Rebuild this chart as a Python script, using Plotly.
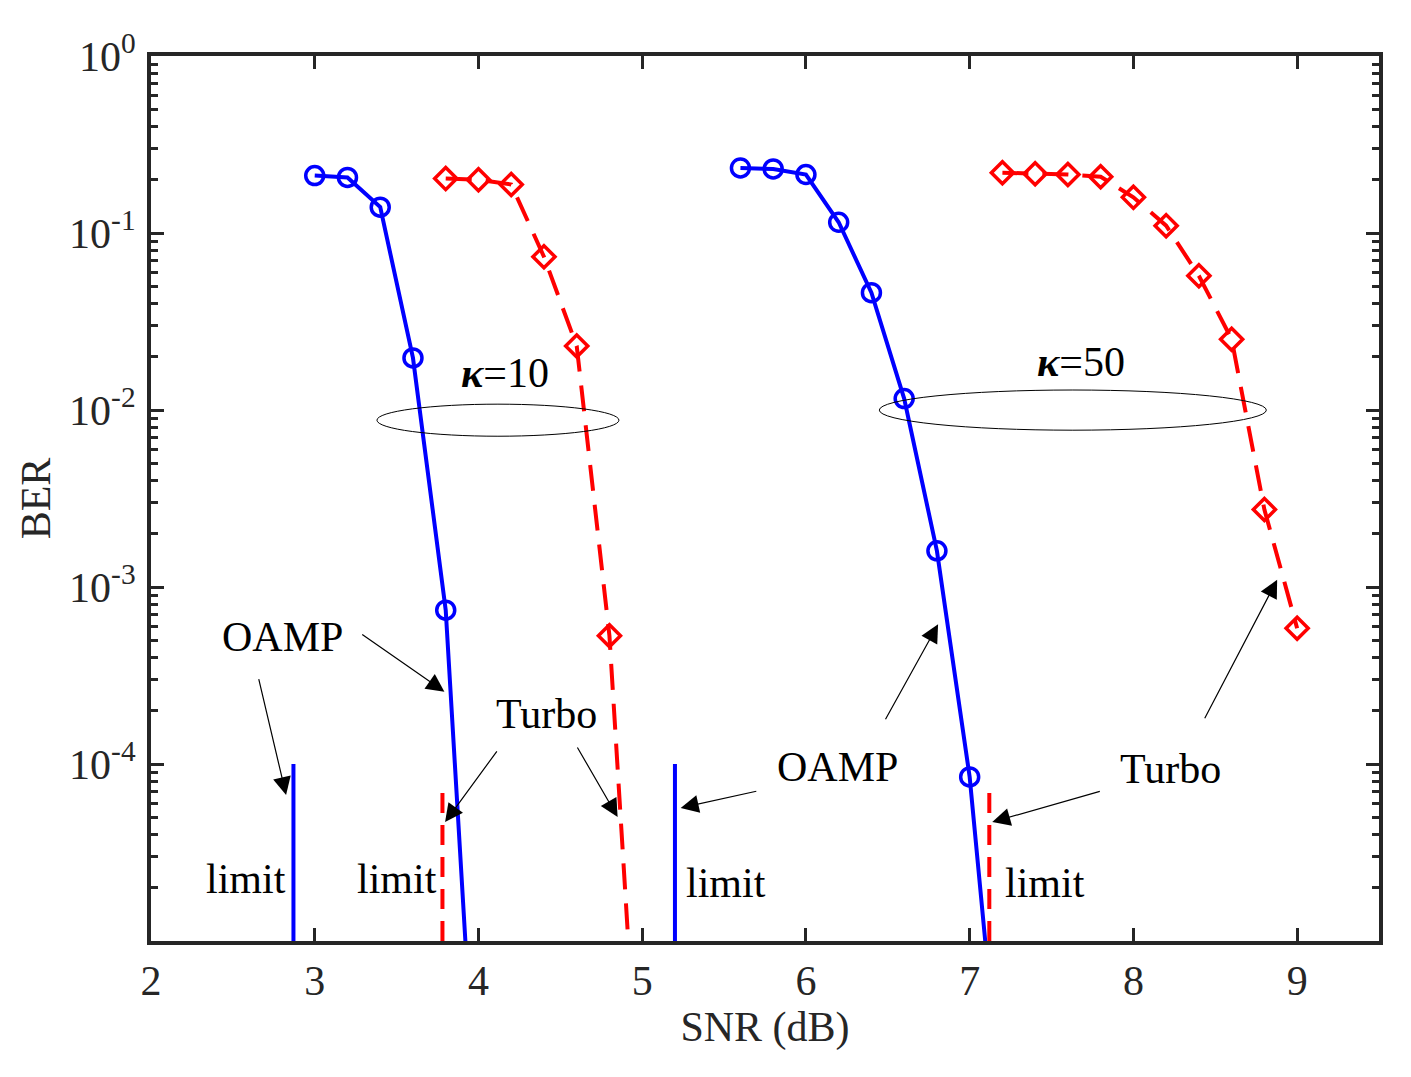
import plotly.graph_objects as go

# ---------------- data ----------------
snr_oamp10 = [3.0, 3.2, 3.4, 3.6, 3.8, 4.0]
ber_oamp10 = [0.211, 0.206, 0.140, 0.0197, 7.4e-4, 5.7e-7]

snr_turbo10 = [3.8, 4.0, 4.2, 4.4, 4.6, 4.8, 5.0]
ber_turbo10 = [0.203, 0.200, 0.188, 0.0734, 0.0230, 5.3e-4, 5.3e-7]

snr_oamp50 = [5.6, 5.8, 6.0, 6.2, 6.4, 6.6, 6.8, 7.0, 7.2]
ber_oamp50 = [0.233, 0.230, 0.214, 0.115, 0.046, 0.0116, 1.6e-3, 8.45e-5, 9.5e-7]

snr_turbo50 = [7.2, 7.4, 7.6, 7.8, 8.0, 8.2, 8.4, 8.6, 8.8, 9.0]
ber_turbo50 = [0.219, 0.216, 0.214, 0.208, 0.159, 0.110, 0.0573, 0.0251, 2.74e-3, 5.85e-4]

limit_oamp = [2.87, 5.20]      # OAMP limits (kappa=10, kappa=50)
limit_turbo = [3.78, 7.12]     # Turbo limits (kappa=10, kappa=50)
limit_oamp_top = 1e-4
limit_turbo_top = 8e-5
ber_floor = 1e-5

x_ticks = [2, 3, 4, 5, 6, 7, 8, 9]
y_ticks = [1e0, 1e-1, 1e-2, 1e-3, 1e-4]
y_ticktext = ["10<sup>0</sup>", "10<sup>-1</sup>", "10<sup>-2</sup>",
              "10<sup>-3</sup>", "10<sup>-4</sup>"]

BLUE = "#0000FF"
RED = "#FF0000"
AX = "#262626"
FONT = "Liberation Serif"
FS = 42

fig = go.Figure()

def curve(x, y, color, symbol, dash):
    fig.add_trace(go.Scatter(
        x=x, y=y, mode="lines+markers",
        line=dict(color=color, width=4, dash=dash),
        marker=dict(symbol=symbol, size=18 if symbol == "circle-open" else 17,
                    color=color, line=dict(color=color, width=3.5)),
        showlegend=False))

curve(snr_oamp10, ber_oamp10, BLUE, "circle-open", "solid")
curve(snr_turbo10, ber_turbo10, RED, "diamond-open", "26px,14px")
curve(snr_oamp50, ber_oamp50, BLUE, "circle-open", "solid")
curve(snr_turbo50, ber_turbo50, RED, "diamond-open", "26px,14px")

for xv in limit_oamp:
    fig.add_trace(go.Scatter(x=[xv, xv], y=[ber_floor, limit_oamp_top], mode="lines",
                             line=dict(color=BLUE, width=4), showlegend=False))
for xv in limit_turbo:
    fig.add_trace(go.Scatter(x=[xv, xv], y=[ber_floor, limit_turbo_top], mode="lines",
                             line=dict(color=RED, width=4, dash="20px,12px"),
                             showlegend=False))

# ellipses (kappa groups)
fig.add_shape(type="circle", xref="x", yref="y", x0=3.38, x1=4.858, y0=0.00711, y1=0.01079,
              line=dict(color="black", width=1))
fig.add_shape(type="circle", xref="x", yref="y", x0=6.448, x1=8.812, y0=0.00769, y1=0.01297,
              line=dict(color="black", width=1))

tfont = dict(family=FONT, size=FS, color="black")
texts = [
    ("<b><i>κ</i></b>=10", 4.159, -1.791),
    ("<b><i>κ</i></b>=50", 7.682, -1.729),
    ("OAMP", 2.801, -3.28),
    ("Turbo", 4.416, -3.716),
    ("OAMP", 6.19, -4.017),
    ("Turbo", 8.226, -4.028),
    ("limit", 2.581, -4.651),
    ("limit", 3.505, -4.651),
    ("limit", 5.511, -4.673),
    ("limit", 7.462, -4.673),
]
for t, xv, yv in texts:
    fig.add_annotation(text=t, x=xv, y=yv, xref="x", yref="y", showarrow=False,
                       font=tfont, xanchor="center", yanchor="middle")

# arrows: (tail x, tail log y, head x, head log y)
arrows = [
    (3.281, -3.262, 3.792, -3.592),
    (2.656, -3.512, 2.825, -4.175),
    (4.119, -3.92, 3.796, -4.328),
    (4.599, -3.898, 4.850, -4.30),
    (5.706, -4.152, 5.235, -4.248),
    (6.481, -3.756, 6.807, -3.211),
    (7.804, -4.152, 7.138, -4.328),
    (8.431, -3.75, 8.878, -2.959),
]
for tx, ty, hx, hy in arrows:
    fig.add_annotation(text="", x=hx, y=hy, ax=tx, ay=ty, xref="x", yref="y",
                       axref="x", ayref="y", showarrow=True, arrowhead=2,
                       arrowsize=3, arrowwidth=1.2, arrowcolor="black", standoff=0,
                       startstandoff=0)

fig.update_layout(
    width=1411, height=1077,
    margin=dict(l=151, r=32, t=56, b=136),
    paper_bgcolor="white", plot_bgcolor="white",
    font=dict(family=FONT, size=FS, color=AX),
    xaxis=dict(range=[2, 9.5], tickvals=x_ticks, ticks="inside", ticklen=13, tickwidth=3,
               tickcolor=AX, showline=True, linewidth=4, linecolor=AX, mirror="ticks",
               showgrid=False, zeroline=False, tickfont=dict(family=FONT, size=FS, color=AX),
               ticklabelstandoff=0,
               title=dict(text="SNR (dB)", font=dict(family=FONT, size=FS, color=AX), standoff=4)),
    yaxis=dict(type="log", range=[-5, 0], tickvals=y_ticks, ticktext=y_ticktext,
               ticks="inside", ticklen=13, tickwidth=3, tickcolor=AX,
               minor=dict(ticks="inside", ticklen=7, tickwidth=3, tickcolor=AX, dtick="D1",
                          showgrid=False),
               showline=True, linewidth=4, linecolor=AX, mirror="ticks",
               showgrid=False, zeroline=False, tickfont=dict(family=FONT, size=FS, color=AX),
               ticklabelstandoff=3,
               title=dict(text="BER", font=dict(family=FONT, size=FS, color=AX), standoff=6)),
)

fig.write_html("out.html", config={"displayModeBar": False},
               post_script="document.body.style.margin='0';")
